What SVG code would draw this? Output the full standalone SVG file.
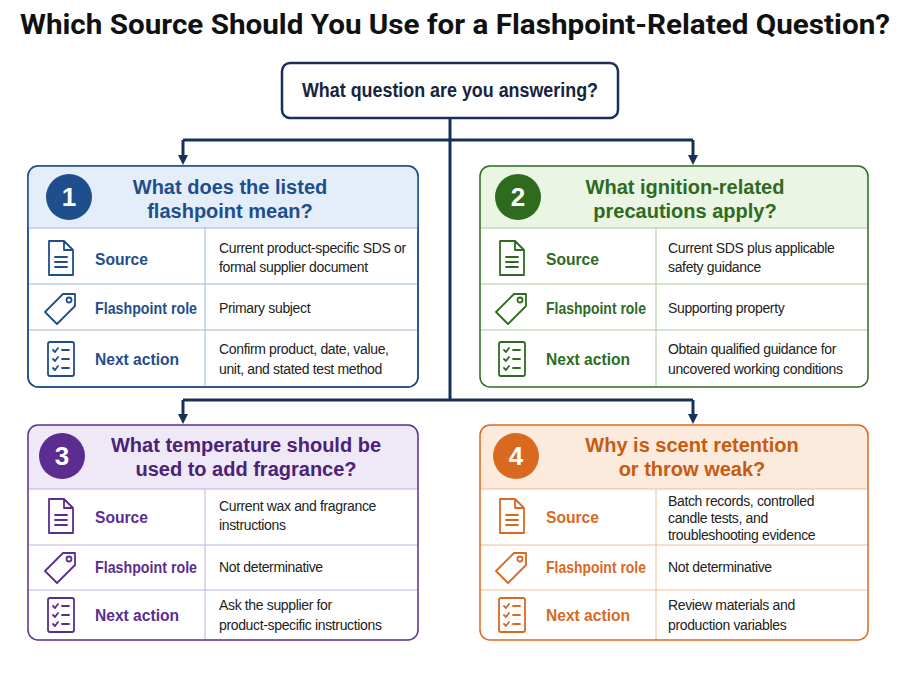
<svg xmlns="http://www.w3.org/2000/svg" width="900" height="675" viewBox="0 0 900 675">
<style>
text{font-family:"Liberation Sans",Arial,sans-serif}
.t{font-size:27px;font-weight:bold;fill:#111;font-family:"Roboto","Liberation Sans",sans-serif}
.q{font-size:20px;font-weight:bold;fill:#16243c}
.h{font-size:20px;font-weight:bold;text-anchor:middle}
.n{font-size:26px;font-weight:bold;fill:#fff;text-anchor:middle}
.l{font-size:17px;font-weight:bold}
.v{font-size:14px;fill:#222;letter-spacing:-0.35px}
.line{stroke:#16305a;stroke-width:3;fill:none}
.ic{fill:none;stroke-width:1.8;stroke-linecap:round;stroke-linejoin:round}
</style>
<defs>
<marker id="ar" markerWidth="10" markerHeight="10" refX="5" refY="5" orient="auto" markerUnits="userSpaceOnUse"><path d="M0,0 L10,5 L0,10 z" fill="#16305a"/></marker>
<g id="doc"><path d="M-12,-17 h15 l9,9 v25 h-24 z M3,-17 v9 h9 M-6,-1 h12 M-6,4 h12 M-6,9 h12"/></g>
<g id="tag"><path d="M-16,4 L2,-14 L14,-14 L14,-2 L-4,16 z"/><circle cx="8" cy="-8" r="2.5"/></g>
<g id="chk"><rect x="-13" y="-17" width="26" height="34" rx="2"/><path d="M-8,-9 l2,2 l3,-4 M-8,0 l2,2 l3,-4 M-8,9 l2,2 l3,-4 M1,-9 h7 M1,0 h7 M1,9 h7"/></g>
</defs>
<rect width="900" height="675" fill="#fff"/>
<text x="20" y="34" class="t" textLength="870" lengthAdjust="spacingAndGlyphs">Which Source Should You Use for a Flashpoint-Related Question?</text>
<g id="connectors">
<path class="line" d="M450,118 V400"/>
<path class="line" d="M183,140 H693"/>
<path class="line" d="M183,140 V160" marker-end="url(#ar)"/>
<path class="line" d="M693,140 V160" marker-end="url(#ar)"/>
<path class="line" d="M183,400 H693"/>
<path class="line" d="M183,400 V419" marker-end="url(#ar)"/>
<path class="line" d="M693,400 V419" marker-end="url(#ar)"/>
</g>
<g id="root"><rect x="282" y="63" width="336" height="55" rx="8" fill="#fff" stroke="#16305a" stroke-width="2.5"/><text x="302" y="97" class="q" textLength="296" lengthAdjust="spacingAndGlyphs">What question are you answering?</text></g>

<g id="card1">
<rect x="28" y="166" width="390" height="221" rx="10" fill="#fff" stroke="#1f4e8c" stroke-width="1.5"/>
<path d="M28,228 V176 a10,10 0 0 1 10,-10 H408 a10,10 0 0 1 10,10 V228 z" fill="#e4eefa"/>
<path d="M28,228 H418 M28,284 H418 M28,330 H418 M205,228 V387" stroke="#9fb8d8" stroke-width="1"/>
<rect x="28" y="166" width="390" height="221" rx="10" fill="none" stroke="#1f4e8c" stroke-width="1.5"/>
<circle cx="69" cy="197" r="23" fill="#1f4e8c"/><text x="69" y="206" class="n">1</text>
<text x="230" y="194" class="h" fill="#1f4e8c">What does the listed</text><text x="230" y="218" class="h" fill="#1f4e8c">flashpoint mean?</text>
<use href="#doc" x="61" y="258" class="ic" stroke="#1f4e8c"/><use href="#tag" x="61" y="308" class="ic" stroke="#1f4e8c"/><use href="#chk" x="61" y="359" class="ic" stroke="#1f4e8c"/>
<g class="l" fill="#1f4e8c"><text x="95" y="265" textLength="53" lengthAdjust="spacingAndGlyphs">Source</text><text x="95" y="314" textLength="102" lengthAdjust="spacingAndGlyphs">Flashpoint role</text><text x="95" y="365" textLength="84" lengthAdjust="spacingAndGlyphs">Next action</text></g>
<g class="v"><text x="219" y="253">Current product-specific SDS or</text><text x="219" y="272">formal supplier document</text><text x="219" y="313">Primary subject</text><text x="219" y="354">Confirm product, date, value,</text><text x="219" y="374">unit, and stated test method</text></g>
</g>

<g id="card2">
<path d="M480,228 V176 a10,10 0 0 1 10,-10 H858 a10,10 0 0 1 10,10 V228 z" fill="#ebf5e4"/>
<path d="M480,228 H868 M480,284 H868 M480,330 H868 M656,228 V387" stroke="#acc9a0" stroke-width="1"/>
<rect x="480" y="166" width="388" height="221" rx="10" fill="none" stroke="#2e6b1f" stroke-width="1.5"/>
<circle cx="518" cy="197" r="23" fill="#2e6b1f"/><text x="518" y="206" class="n">2</text>
<text x="685" y="194" class="h" fill="#2e6b1f">What ignition-related</text><text x="685" y="218" class="h" fill="#2e6b1f">precautions apply?</text>
<use href="#doc" x="512" y="258" class="ic" stroke="#2e6b1f"/><use href="#tag" x="512" y="308" class="ic" stroke="#2e6b1f"/><use href="#chk" x="512" y="359" class="ic" stroke="#2e6b1f"/>
<g class="l" fill="#2e6b1f"><text x="546" y="265" textLength="53" lengthAdjust="spacingAndGlyphs">Source</text><text x="546" y="314" textLength="100" lengthAdjust="spacingAndGlyphs">Flashpoint role</text><text x="546" y="365" textLength="84" lengthAdjust="spacingAndGlyphs">Next action</text></g>
<g class="v"><text x="668" y="253">Current SDS plus applicable</text><text x="668" y="272">safety guidance</text><text x="668" y="313">Supporting property</text><text x="668" y="354">Obtain qualified guidance for</text><text x="668" y="374">uncovered working conditions</text></g>
</g>

<g id="card3">
<path d="M28,489 V435 a10,10 0 0 1 10,-10 H408 a10,10 0 0 1 10,10 V489 z" fill="#efe8f7"/>
<path d="M28,489 H418 M28,545 H418 M28,590 H418 M205,489 V640" stroke="#c2aedb" stroke-width="1"/>
<rect x="28" y="425" width="390" height="215" rx="10" fill="none" stroke="#5b2d91" stroke-width="1.5"/>
<circle cx="62" cy="456" r="23" fill="#5b2d91"/><text x="62" y="465" class="n">3</text>
<text x="246" y="452" class="h" fill="#4a2278">What temperature should be</text><text x="246" y="476" class="h" fill="#4a2278">used to add fragrance?</text>
<use href="#doc" x="61" y="516" class="ic" stroke="#5b2d91"/><use href="#tag" x="61" y="567" class="ic" stroke="#5b2d91"/><use href="#chk" x="61" y="615" class="ic" stroke="#5b2d91"/>
<g class="l" fill="#5b2d91"><text x="95" y="523" textLength="53" lengthAdjust="spacingAndGlyphs">Source</text><text x="95" y="573" textLength="102" lengthAdjust="spacingAndGlyphs">Flashpoint role</text><text x="95" y="621" textLength="84" lengthAdjust="spacingAndGlyphs">Next action</text></g>
<g class="v"><text x="219" y="511">Current wax and fragrance</text><text x="219" y="530">instructions</text><text x="219" y="572">Not determinative</text><text x="219" y="610">Ask the supplier for</text><text x="219" y="630">product-specific instructions</text></g>
</g>

<g id="card4">
<path d="M480,489 V435 a10,10 0 0 1 10,-10 H858 a10,10 0 0 1 10,10 V489 z" fill="#fcebdd"/>
<path d="M480,489 H868 M480,545 H868 M480,590 H868 M656,489 V640" stroke="#ecbf98" stroke-width="1"/>
<rect x="480" y="425" width="388" height="215" rx="10" fill="none" stroke="#d9691f" stroke-width="1.5"/>
<circle cx="516" cy="456" r="23" fill="#d9691f"/><text x="516" y="465" class="n">4</text>
<text x="692" y="452" class="h" fill="#c85a12">Why is scent retention</text><text x="692" y="476" class="h" fill="#c85a12">or throw weak?</text>
<use href="#doc" x="512" y="516" class="ic" stroke="#d9691f"/><use href="#tag" x="512" y="567" class="ic" stroke="#d9691f"/><use href="#chk" x="512" y="615" class="ic" stroke="#d9691f"/>
<g class="l" fill="#d9691f"><text x="546" y="523" textLength="53" lengthAdjust="spacingAndGlyphs">Source</text><text x="546" y="573" textLength="100" lengthAdjust="spacingAndGlyphs">Flashpoint role</text><text x="546" y="621" textLength="84" lengthAdjust="spacingAndGlyphs">Next action</text></g>
<g class="v"><text x="668" y="506">Batch records, controlled</text><text x="668" y="523">candle tests, and</text><text x="668" y="540">troubleshooting evidence</text><text x="668" y="572">Not determinative</text><text x="668" y="610">Review materials and</text><text x="668" y="630">production variables</text></g>
</g>
</svg>
